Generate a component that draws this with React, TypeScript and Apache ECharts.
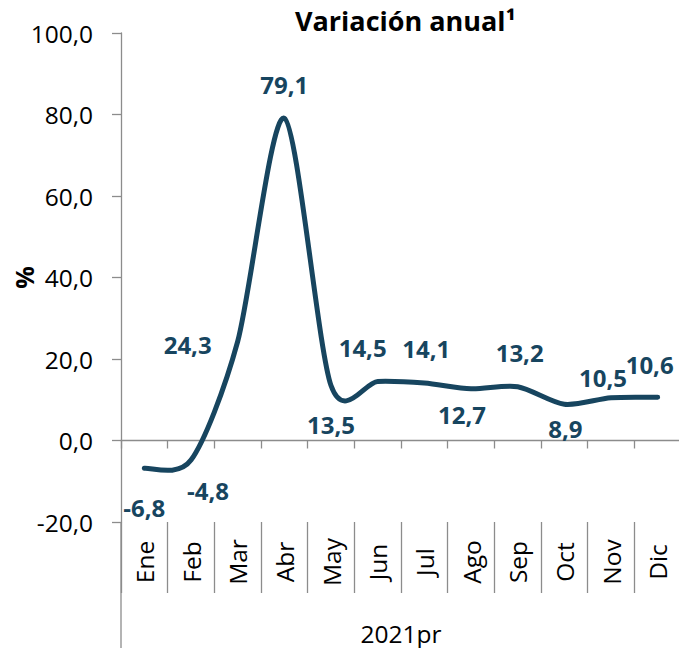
import React, { useEffect, useRef } from "react";
import * as echarts from "echarts";

const months = ["Ene", "Feb", "Mar", "Abr", "May", "Jun", "Jul", "Ago", "Sep", "Oct", "Nov", "Dic"];
const values = [-6.8, -4.8, 24.3, 79.1, 13.5, 14.5, 14.1, 12.7, 13.2, 8.9, 10.5, 10.6];
const labelOffsets: [number, number][] = [
  [0, 39], [17, 30], [-50, 3], [0, -34], [0, 39], [-15, -34],
  [2, -35], [-9, 26], [2, -34], [1, 24], [-8, -20], [-8, -33],
];
const yMin = -20;
const yMax = 100;
const yStep = 20;
const title = "Variación anual¹";
const yName = "%";
const xName = "2021pr";

const FONT = "'Open Sans', 'Noto Sans', sans-serif";
const LINE = "#17455f";
const AXIS = "#8c8c8c";

function catmullRomPath(pts: number[][], k: number): string {
  if (!pts.length) return "";
  let d = `M${pts[0][0]},${pts[0][1]}`;
  for (let i = 0; i < pts.length - 1; i++) {
    const p0 = pts[i - 1] || pts[i];
    const p1 = pts[i];
    const p2 = pts[i + 1];
    const p3 = pts[i + 2] || p2;
    const c1x = p1[0] + (p2[0] - p0[0]) * k;
    const c1y = p1[1] + (p2[1] - p0[1]) * k;
    const c2x = p2[0] - (p3[0] - p1[0]) * k;
    const c2y = p2[1] - (p3[1] - p1[1]) * k;
    d += ` C${c1x},${c1y} ${c2x},${c2y} ${p2[0]},${p2[1]}`;
  }
  return d;
}

export default function App() {
  const ref = useRef<HTMLDivElement>(null);
  useEffect(() => {
    if (!ref.current) return;
    const chart = echarts.init(ref.current, undefined, { renderer: "svg" });
    const fmt = (v: number) => v.toFixed(1).replace(".", ",");
    chart.setOption({
      animation: false,
      title: {
        text: title,
        left: 290,
        top: 2,
        textStyle: { fontFamily: FONT, fontSize: 27, fontWeight: "bold", color: "#000" },
      },
      grid: { left: 121, top: 33, width: 560, height: 489, outerBoundsMode: "none", containLabel: false },
      xAxis: [
        {
          type: "category",
          data: months,
          axisLine: { show: true, onZero: true, lineStyle: { color: AXIS, width: 1.3 } },
          axisTick: { show: true, length: 8, interval: 0, lineStyle: { color: AXIS, width: 1.3 } },
          axisLabel: { show: false },
          splitLine: { show: false },
        },
        {
          type: "category",
          data: months,
          position: "bottom",
          axisLine: { show: false, onZero: false },
          axisTick: { show: true, length: 71, interval: 0, lineStyle: { color: AXIS, width: 1.3 } },
          axisLabel: {
            show: true,
            interval: 0,
            rotate: 90,
            align: "center",
            verticalAlign: "middle",
            margin: 40,
            fontFamily: FONT,
            fontSize: 24.5,
            color: "#000",
          },
          splitLine: { show: false },
        },
      ],
      yAxis: {
        type: "value",
        min: yMin,
        max: yMax,
        interval: yStep,
        name: yName,
        nameLocation: "middle",
        nameRotate: 90,
        nameGap: 85,
        nameMoveOverlap: false,
        nameTextStyle: { fontFamily: FONT, fontSize: 25, fontWeight: "bold", color: "#000" },
        axisLine: { show: true, lineStyle: { color: AXIS, width: 1.3 } },
        axisTick: { show: true, length: 9, lineStyle: { color: AXIS, width: 1.3 } },
        axisLabel: {
          formatter: (v: number) => fmt(v),
          margin: 28,
          fontFamily: FONT,
          fontSize: 24.5,
          color: "#000",
        },
        splitLine: { show: false },
      },
      graphic: [
        {
          type: "line",
          shape: { x1: 121, y1: 522, x2: 121, y2: 648 },
          style: { stroke: AXIS, lineWidth: 1.3 },
        },
        {
          type: "text",
          x: 401,
          y: 633,
          style: {
            text: xName,
            fontFamily: FONT,
            fontSize: 24.5,
            fill: "#000",
            textAlign: "center",
            textVerticalAlign: "middle",
          },
        },
      ],
      series: [
        {
          type: "custom",
          xAxisIndex: 0,
          data: values.map((v, i) => [i, v]),
          renderItem: (params: any, api: any) => {
            if (params.dataIndex !== 0) return null;
            const pts = values.map((v, i) => api.coord([i, v]));
            return {
              type: "path",
              shape: { pathData: catmullRomPath(pts, 0.14) },
              style: { stroke: LINE, lineWidth: 5, fill: "none", lineCap: "round", lineJoin: "round" },
            };
          },
          z: 2,
        },
        {
          type: "scatter",
          xAxisIndex: 0,
          data: values.map((v, i) => ({
            value: [i, v],
            label: { offset: labelOffsets[i] },
          })),
          symbolSize: 1,
          itemStyle: { color: LINE, opacity: 1 },
          z: 3,
          label: {
            show: true,
            position: "inside",
            formatter: (p: any) => fmt(p.value[1]),
            fontFamily: FONT,
            fontSize: 24,
            fontWeight: "bold",
            color: LINE,
            opacity: 1,
          },
        },
      ],
    });
    return () => chart.dispose();
  }, []);
  return <div ref={ref} style={{ width: 679, height: 648, position: "absolute", left: 0, top: 0 }} />;
}
